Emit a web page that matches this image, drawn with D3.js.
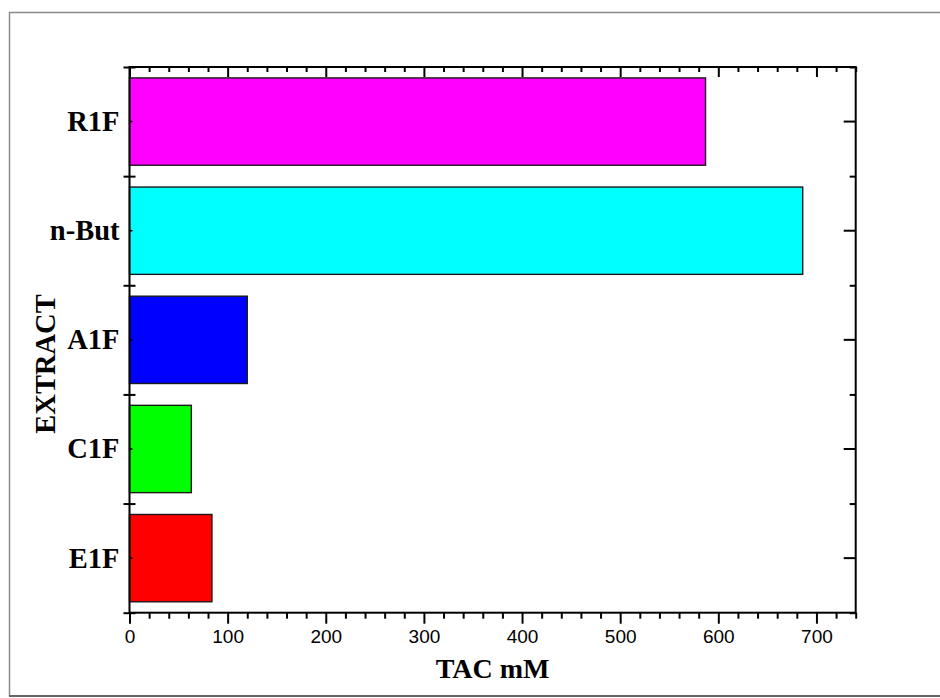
<!DOCTYPE html>
<html>
<head>
<meta charset="utf-8">
<script src="https://cdn.jsdelivr.net/npm/d3@7"></script>
<style>
  html, body { margin: 0; padding: 0; background: #fff; }
  svg { display: block; }
</style>
</head>
<body>
<svg id="chart" width="940" height="698"></svg>
<script>
// Extracts, listed bottom to top
const categories = ["E1F", "C1F", "A1F", "n-But", "R1F"];
// Total antioxidant capacity (mM)
const tacValues = [84, 63, 120, 686, 587];
const barColors = ["#ff0000", "#00ff00", "#0000ff", "#00ffff", "#ff00ff"];
const xMajorTicks = [0, 100, 200, 300, 400, 500, 600, 700];
const xMinorTicks = d3.range(0, 741, 20).filter(v => v % 100 !== 0);
const xDomain = [0, 740];

const svg = d3.select("#chart");
const plotLeft = 129.5, plotRight = 855.7, plotTop = 67, plotBottom = 612.7;

const serif = "'Times New Roman', 'Liberation Serif', serif";
const sans = "Arial, 'Liberation Sans', sans-serif";

// Page frame
const frame = svg.append("g").attr("stroke", "#8a8a8a").attr("fill", "none");
frame.append("line").attr("x1", 9).attr("x2", 940).attr("y1", 12.5).attr("y2", 12.5).attr("stroke-width", 1.5);
frame.append("line").attr("x1", 9.5).attr("x2", 9.5).attr("y1", 12).attr("y2", 696).attr("stroke-width", 1.5);
frame.append("line").attr("x1", 9).attr("x2", 940).attr("y1", 696).attr("y2", 696).attr("stroke-width", 2.2).attr("stroke", "#666");

const x = d3.scaleLinear().domain(xDomain).range([plotLeft, plotRight]);
const y = d3.scaleBand().domain(categories).range([plotBottom, plotTop])
  .paddingInner(0.2).paddingOuter(0.1);
// Category boundaries (0..n) on the vertical axis
const yEdge = d3.scaleLinear().domain([0, categories.length]).range([plotBottom, plotTop]);

// Bars
svg.append("g").selectAll("rect")
  .data(categories)
  .join("rect")
  .attr("x", x(0))
  .attr("y", d => y(d))
  .attr("width", (d, i) => x(tacValues[i]) - x(0))
  .attr("height", y.bandwidth())
  .attr("fill", (d, i) => barColors[i])
  .attr("stroke", "#1a1a1a")
  .attr("stroke-width", 1.4);

function styleAxis(g) {
  g.select(".domain").remove();
  g.selectAll(".tick line").attr("stroke", "#000").attr("stroke-width", 2);
}

// Bottom axis: labelled major ticks, shorter minor ticks
svg.append("g").attr("transform", `translate(0,${plotBottom})`)
  .call(d3.axisBottom(x).tickValues(xMinorTicks).tickSize(6).tickFormat(""))
  .call(styleAxis);
svg.append("g").attr("transform", `translate(0,${plotBottom})`)
  .call(d3.axisBottom(x).tickValues(xMajorTicks).tickSize(11).tickPadding(6).tickFormat(d3.format("d")))
  .call(styleAxis)
  .call(g => g.selectAll(".tick text")
    .attr("font-family", sans).attr("font-size", 19).attr("fill", "#000"));

// Top axis: inward ticks, no labels
svg.append("g").attr("transform", `translate(0,${plotTop})`)
  .call(d3.axisTop(x).tickValues(xMinorTicks).tickSize(-5).tickFormat(""))
  .call(styleAxis);
svg.append("g").attr("transform", `translate(0,${plotTop})`)
  .call(d3.axisTop(x).tickValues(xMajorTicks).tickSize(-10).tickFormat(""))
  .call(styleAxis);

// Left axis: crossing ticks at category boundaries, small inward ticks at centres
const edgeValues = d3.range(0, categories.length + 1);
svg.append("g").attr("transform", `translate(${plotLeft},0)`)
  .call(d3.axisLeft(yEdge).tickValues(edgeValues).tickSize(6).tickFormat(""))
  .call(styleAxis);
svg.append("g").attr("transform", `translate(${plotLeft},0)`)
  .call(d3.axisLeft(yEdge).tickValues(edgeValues).tickSize(-6).tickFormat(""))
  .call(styleAxis);
svg.append("g").attr("transform", `translate(${plotLeft},0)`)
  .call(d3.axisLeft(y).tickSize(-3).tickPadding(10))
  .call(styleAxis)
  .call(g => g.selectAll(".tick line").attr("stroke-width", 1.5))
  .call(g => g.selectAll(".tick text")
    .attr("font-family", serif).attr("font-weight", "bold")
    .attr("font-size", 28.5).attr("fill", "#000").attr("dy", "0.33em"));

// Right axis: long inward ticks at centres, short at boundaries
svg.append("g").attr("transform", `translate(${plotRight},0)`)
  .call(d3.axisRight(y).tickSize(-12).tickFormat(""))
  .call(styleAxis);
svg.append("g").attr("transform", `translate(${plotRight},0)`)
  .call(d3.axisRight(yEdge).tickValues(edgeValues).tickSize(-6).tickFormat(""))
  .call(styleAxis);

// Plot border
svg.append("rect")
  .attr("x", plotLeft).attr("y", plotTop)
  .attr("width", plotRight - plotLeft).attr("height", plotBottom - plotTop)
  .attr("fill", "none").attr("stroke", "#000").attr("stroke-width", 2);

// Axis titles
svg.append("text")
  .attr("x", (plotLeft + plotRight) / 2).attr("y", 678)
  .attr("text-anchor", "middle")
  .attr("font-family", serif).attr("font-weight", "bold").attr("font-size", 28)
  .text("TAC mM");

svg.append("text")
  .attr("transform", "translate(55,364) rotate(-90)")
  .attr("text-anchor", "middle")
  .attr("font-family", serif).attr("font-weight", "bold").attr("font-size", 28.5)
  .text("EXTRACT");
</script>
</body>
</html>
